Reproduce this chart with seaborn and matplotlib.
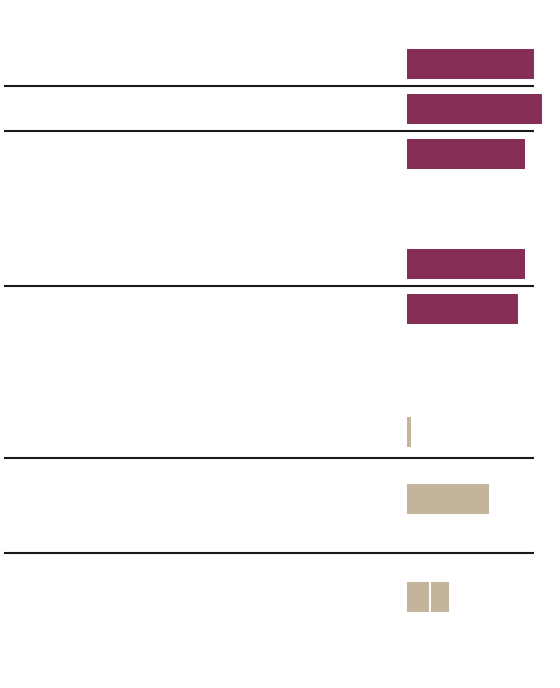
import matplotlib
matplotlib.use("Agg")
import matplotlib.pyplot as plt
import seaborn as sns
import pandas as pd

# ---- data ----
row_labels = ["r1", "r2", "r3", "r4", "r5", "r6", "r7", "r8"]
row_group = ["maroon", "maroon", "maroon", "maroon", "maroon", "beige", "beige", "beige"]
first_segment = [127, 135, 118, 118, 111, 4, 82, 23]
second_segment = [0, 0, 0, 0, 0, 0, 0, 19]

# ---- layout (pixel rows) ----
row_centers = [64, 109, 154, 264, 309, 432, 499, 597]
separator_rows = [86, 131, 286, 458, 553]
palette = {"maroon": "#852F57", "beige": "#C3B59B"}

W, H = 560, 688
fig = plt.figure(figsize=(W / 100, H / 100), dpi=100)
fig.patch.set_facecolor("white")

bg = fig.add_axes([0, 0, 1, 1])
bg.set_xlim(0, W)
bg.set_ylim(H, 0)
bg.axis("off")
for y in separator_rows:
    bg.hlines(y, 4, 534, color="#1a1a1a", lw=1.5)

x0 = 407
ax = fig.add_axes([x0 / W, 0, (W - x0) / W, 1])
ax.patch.set_alpha(0)

totals = [a + b for a, b in zip(first_segment, second_segment)]
df = pd.DataFrame({"label": row_labels, "pos": row_centers,
                   "total": totals, "first": first_segment, "group": row_group})

sns.barplot(data=df, x="total", y="pos", hue="group", palette=palette,
            orient="h", native_scale=True, width=30 / 45, dodge=False,
            legend=False, errorbar=None, linewidth=0, saturation=1, ax=ax)

# white gap between stacked segments
for p, a, b in zip(row_centers, first_segment, second_segment):
    if b > 0:
        ax.vlines(a, p - 16, p + 16, color="white", lw=1.5)

ax.set_xlim(0, W - x0)
ax.set_ylim(H, 0)
ax.axis("off")

fig.savefig("out.png", dpi=100, facecolor="white")
